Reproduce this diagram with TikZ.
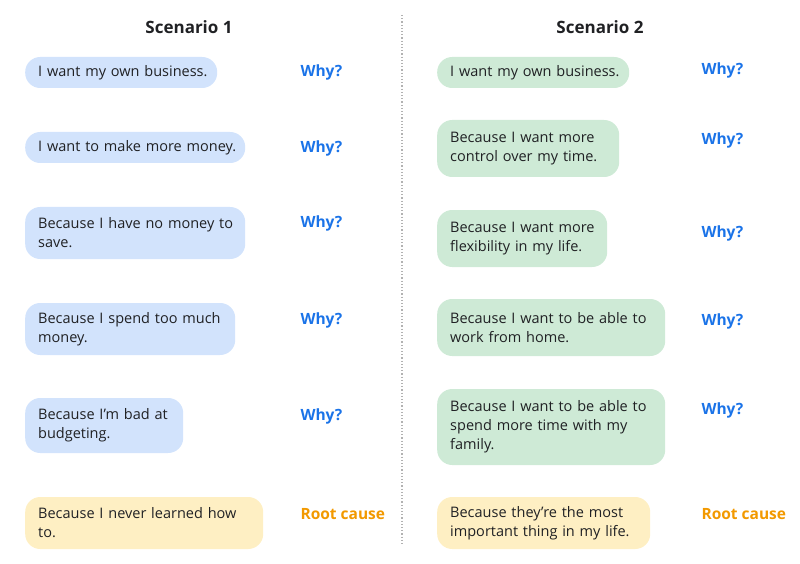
\documentclass[tikz,border=0pt]{standalone}
\usepackage{fontspec}
\setmainfont{Open Sans}
\usepackage{xcolor}
\definecolor{bluebox}{HTML}{D2E3FC}
\definecolor{greenbox}{HTML}{CEEAD6}
\definecolor{yellowbox}{HTML}{FEEFC3}
\definecolor{whyblue}{HTML}{1A73E8}
\definecolor{rootorange}{HTML}{F29900}
\definecolor{inkgrey}{HTML}{202124}

\begin{document}
\begin{tikzpicture}[x=1pt,y=-1pt,
    answer/.style={rounded corners=15pt,anchor=west,align=left,inner xsep=13pt,inner ysep=0pt,
        text=inkgrey,font=\fontsize{14.5}{19}\selectfont},
    blue answer/.style={answer,fill=bluebox},
    green answer/.style={answer,fill=greenbox},
    root answer/.style={answer,fill=yellowbox},
    why/.style={anchor=west,text=whyblue,font=\fontsize{15.5}{19}\selectfont\bfseries},
    root/.style={anchor=west,text=rootorange,font=\fontsize{15.5}{19}\selectfont\bfseries},
    title/.style={text=inkgrey,font=\fontsize{17}{20}\selectfont\bfseries}]

    \useasboundingbox (0,0) rectangle (800,564);

    \node[title] (t1) at (189,27) {Scenario 1};
    \node[title] (t2) at (600,27) {Scenario 2};

    \coordinate (top) at (402,15);
    \coordinate (bot) at (402,546);
    \draw[gray!60,line width=1.2pt,dotted] (top) -- (bot);

    % scenario 1
    \node[blue answer,text width=166pt,minimum height=31pt] (a1) at (25,72.5) {\mbox{I want my own business.}};
    \node[blue answer,text width=194pt,minimum height=31pt] (a2) at (25,147.5) {\mbox{I want to make more money.}};
    \node[blue answer,text width=194pt,minimum height=52pt] (a3) at (25,233) {\mbox{Because I have no money to}\\save.};
    \node[blue answer,text width=184pt,minimum height=52pt] (a4) at (25,329) {\mbox{Because I spend too much}\\money.};
    \node[blue answer,text width=132pt,minimum height=55pt] (a5) at (25,425.5) {\mbox{Because I’m bad at}\\budgeting.};
    \node[root answer,text width=212pt,minimum height=52pt] (a6) at (25,523) {\mbox{Because I never learned how}\\to.};

    \node[why] (w1) at (297,72) {Why?};
    \node[why] (w2) at (297,148) {Why?};
    \node[why] (w3) at (297,223) {Why?};
    \node[why] (w4) at (297,320) {Why?};
    \node[why] (w5) at (297,416) {Why?};
    \node[root] (r1) at (297,514) {Root cause};

    % scenario 2
    \node[green answer,text width=166pt,minimum height=31pt] (b1) at (437,72.5) {\mbox{I want my own business.}};
    \node[green answer,text width=156pt,minimum height=57pt] (b2) at (437,148.5) {\mbox{Because I want more}\\\mbox{control over my time.}};
    \node[green answer,text width=144pt,minimum height=57pt] (b3) at (437,238.5) {\mbox{Because I want more}\\\mbox{flexibility in my life.}};
    \node[green answer,text width=202pt,minimum height=57pt] (b4) at (437,327.5) {\mbox{Because I want to be able to}\\\mbox{work from home.}};
    \node[green answer,text width=202pt,minimum height=76pt] (b5) at (437,427) {\mbox{Because I want to be able to}\\\mbox{spend more time with my}\\family.};
    \node[root answer,text width=187pt,minimum height=52pt] (b6) at (437,523) {\mbox{Because they’re the most}\\\mbox{important thing in my life.}};

    \node[why] (v1) at (698,70) {Why?};
    \node[why] (v2) at (698,140) {Why?};
    \node[why] (v3) at (698,233) {Why?};
    \node[why] (v4) at (698,321) {Why?};
    \node[why] (v5) at (698,410) {Why?};
    \node[root] (r2) at (698,514) {Root cause};

\end{tikzpicture}
\end{document}
